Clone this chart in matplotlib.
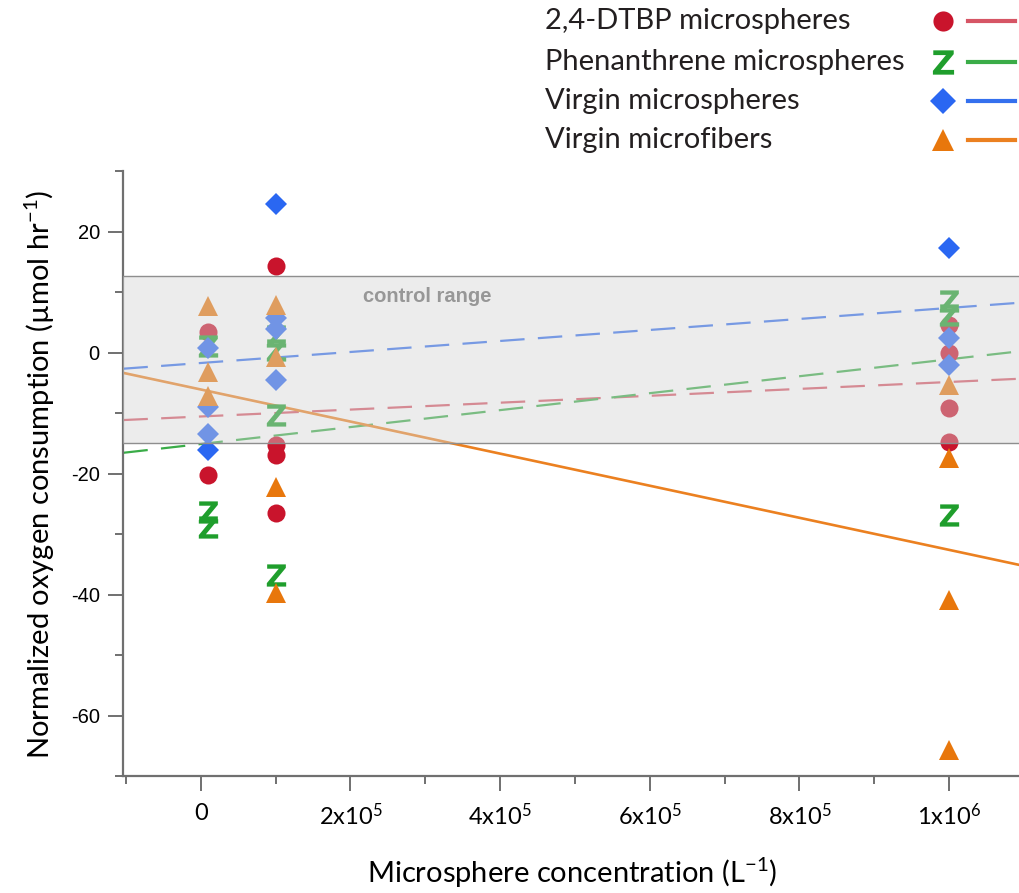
import matplotlib
matplotlib.use('Agg')
import matplotlib.pyplot as plt
import numpy as np
from matplotlib.lines import Line2D
from matplotlib.ticker import MultipleLocator

plt.rcParams['font.family'] = ['Lato', 'DejaVu Sans']
plt.rcParams['mathtext.fontset'] = 'custom'
plt.rcParams['mathtext.rm'] = 'Lato'
plt.rcParams['mathtext.it'] = 'Lato:italic'
plt.rcParams['mathtext.bf'] = 'Lato:bold'
plt.rcParams['mathtext.sf'] = 'DejaVu Sans:bold'

# measured points (x = microsphere concentration, y = normalized O2 consumption)
dtbp_x = [1e4, 1e4, 1e5, 1e5, 1e5, 1e5, 1e6, 1e6, 1e6, 1e6]
dtbp_y = [3.5, -20.2, 14.4, -15.2, -16.9, -26.5, 4.6, 0.0, -9.1, -14.7]

phen_x = [1e4, 1e4, 1e4, 1e5, 1e5, 1e5, 1e5, 1e6, 1e6, 1e6]
phen_y = [1.2, -26.3, -28.8, 2.8, 0.5, -10.2, -36.7, 8.6, 6.2, -26.8]

sphere_x = [1e4, 1e4, 1e4, 1e4, 1e5, 1e5, 1e5, 1e5, 1e6, 1e6, 1e6]
sphere_y = [0.8, -9.0, -13.4, -16.1, 24.7, 5.7, 4.0, -4.4, 17.3, 2.4, -2.0]

fiber_x = [1e4, 1e4, 1e4, 1e5, 1e5, 1e5, 1e5, 1e6, 1e6, 1e6, 1e6]
fiber_y = [7.7, -3.1, -7.1, 7.9, -0.6, -22.1, -39.7, -5.3, -17.4, -40.8, -65.6]

# regression lines: intercept, slope (per 1e6 L^-1)
fit_intercept = [-10.5, -15.05, -1.66, -6.04]
fit_slope = [5.7, 14.0, 9.1, -26.5]

control_range = (-14.9, 12.8)

labels = ['2,4-DTBP microspheres', 'Phenanthrene microspheres',
          'Virgin microspheres', 'Virgin microfibers']

marker_colors = ['#c9142c', '#1f9e2c', '#2a67f2', '#e8770c']
line_colors = ['#d65565', '#3aac48', '#3470ee', '#eb8020']
markers = ['o', r'$\mathsf{Z}$', 'D', '^']
msizes = [13, 16, 11.5, 15]
dashed = [True, True, True, False]

fig = plt.figure(figsize=(10.2, 8.93), dpi=100)
ax = fig.add_axes([0.121, 0.1305, 0.879, 0.6775])

xs_all = [dtbp_x, phen_x, sphere_x, fiber_x]
ys_all = [dtbp_y, phen_y, sphere_y, fiber_y]
zorders = [3, 4, 5, 6]

xlim = (-1.035e5, 1.095e6)
xx = np.array(xlim)
for i in range(4):
    yy = fit_intercept[i] + fit_slope[i] * xx / 1e6
    if dashed[i]:
        ax.plot(xx, yy, color=line_colors[i], lw=1.6, dashes=(11, 6), zorder=2)
    else:
        ax.plot(xx, yy, color=line_colors[i], lw=1.9, zorder=2)

for i in range(4):
    ax.plot(xs_all[i], ys_all[i], linestyle='none', marker=markers[i],
            markersize=msizes[i], color=marker_colors[i],
            markeredgewidth=0, zorder=zorders[i])

# control range band sits on top and washes out what is inside
ax.axhspan(control_range[0], control_range[1], facecolor='#d4d4d4',
           alpha=0.42, edgecolor='none', zorder=10)
for yv in control_range:
    ax.axhline(yv, color='#8e8e8e', lw=1.0, zorder=11)
ax.text(2.17e5, 9.3, 'control range', fontsize=14.5, fontweight='bold',
        color='#979797', family='Liberation Sans', va='center', ha='left', zorder=12)

ax.set_xlim(xlim)
ax.set_ylim(-70, 30)

ax.set_xticks([0, 2e5, 4e5, 6e5, 8e5, 1e6])
ax.set_xticklabels(['0', r'2x10$^{\mathrm{5}}$', r'4x10$^{\mathrm{5}}$',
                    r'6x10$^{\mathrm{5}}$', r'8x10$^{\mathrm{5}}$',
                    r'1x10$^{\mathrm{6}}$'], fontsize=17)
ax.xaxis.set_minor_locator(MultipleLocator(1e5))
ax.set_yticks([-60, -40, -20, 0, 20])
ax.set_yticklabels(['-60', '-40', '-20', '0', '20'], family='Liberation Sans', fontsize=14.5)
ax.yaxis.set_minor_locator(MultipleLocator(10))

for s in ['top', 'right']:
    ax.spines[s].set_visible(False)
for s in ['left', 'bottom']:
    ax.spines[s].set_color('#707070')
    ax.spines[s].set_linewidth(1.6)
ax.tick_params(which='major', direction='out', length=11, width=1.4, color='#707070', pad=6)
ax.tick_params(which='minor', direction='out', length=6, width=1.4, color='#707070')
ax.tick_params(axis='x', which='major', pad=8)

ax.set_xlabel(r'Microsphere concentration (L$^{\mathrm{-1}}$)', fontsize=21, labelpad=19)
ax.set_ylabel(r'Normalized oxygen consumption (µmol hr$^{\mathrm{-1}}$)', fontsize=21, labelpad=10)

# legend drawn by hand: label on the left, then marker, then line
W, H = 1020.0, 893.0
row_y = [21, 62, 101, 140]
for i in range(4):
    yf = 1 - row_y[i] / H
    fig.text(545 / W, yf, labels[i], fontsize=21, ha='left', va='center', color='#231f20')
    fig.add_artist(Line2D([943 / W], [yf], transform=fig.transFigure, linestyle='none',
                          marker=markers[i], markersize=msizes[i] + 1.5,
                          color=marker_colors[i], markeredgewidth=0))
    fig.add_artist(Line2D([968 / W, 1015 / W], [yf, yf], transform=fig.transFigure,
                          color=line_colors[i], lw=3))

plt.savefig('out.png', dpi=100)
